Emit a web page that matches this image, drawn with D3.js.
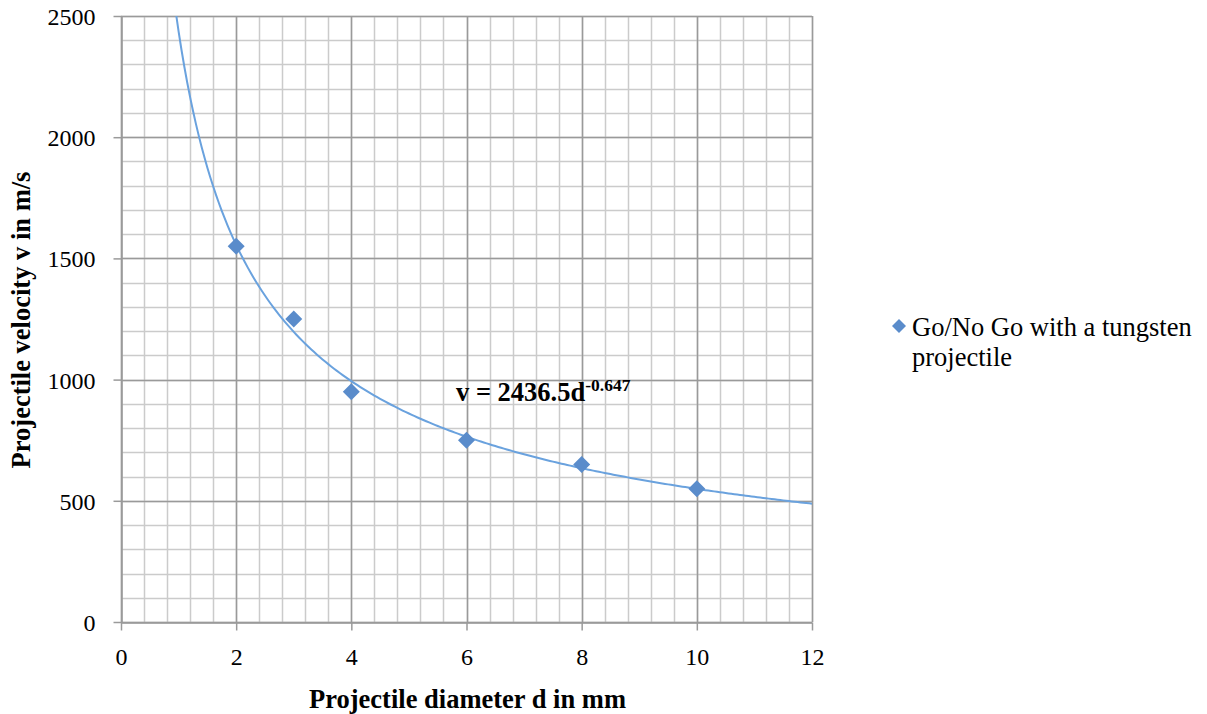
<!DOCTYPE html>
<html>
<head>
<meta charset="utf-8">
<script src="https://cdnjs.cloudflare.com/ajax/libs/d3/7.8.5/d3.min.js"></script>
<style>
  body { margin: 0; background: #fff; }
  svg text { font-family: "Liberation Serif", "Times New Roman", serif; fill: #000; }
</style>
</head>
<body>
<script>
"use strict";
(function(){
    // data
    const diameters = [2, 3, 4, 6, 8, 10]
    const velocities = [1550, 1250, 950, 750, 650, 550]
    const xTicks = [0, 2, 4, 6, 8, 10, 12]
    const yTicks = [0, 500, 1000, 1500, 2000, 2500]
    // power trendline shown on the chart: v = a * d^b
    const fitA = 2436.5
    const fitB = -0.647
    const seriesName = ["Go/No Go with a tungsten", "projectile"]

    const measurements = {
        width: 1207,
        height: 714,
        left: 121,
        right: 812,
        top: 16,
        bottom: 622
    }
    const markerColor = "#5a8ccb"
    const lineColor = "#6aa2de"
    const serif = '"Liberation Serif", "Times New Roman", serif'

    let svgContainer = d3.select('body').append("svg")
        .attr('width', measurements.width)
        .attr('height', measurements.height)

    let scaleX = d3.scaleLinear()
        .domain([0, 12])
        .range([measurements.left, measurements.right])
    let scaleY = d3.scaleLinear()
        .domain([0, 2500])
        .range([measurements.bottom, measurements.top])

    // grid lines: minor first, major on top
    function drawGrid(xs, ys, colour) {
        let g = svgContainer.append('g')
        g.selectAll('.v')
            .data(xs)
            .enter().append('line')
            .attr('x1', d => Math.round(scaleX(d)) + 0.5)
            .attr('x2', d => Math.round(scaleX(d)) + 0.5)
            .attr('y1', measurements.top)
            .attr('y2', measurements.bottom)
            .attr('stroke', colour)
            .attr('stroke-width', 1.5)
        g.selectAll('.h')
            .data(ys)
            .enter().append('line')
            .attr('x1', measurements.left)
            .attr('x2', measurements.right)
            .attr('y1', d => Math.round(scaleY(d)) + 0.5)
            .attr('y2', d => Math.round(scaleY(d)) + 0.5)
            .attr('stroke', colour)
            .attr('stroke-width', 1.5)
    }
    drawGrid(d3.range(0, 12.0001, 0.4), d3.range(0, 2501, 100), '#cbcbcb')
    drawGrid(xTicks, yTicks, '#9a9a9a')

    // axes
    let xAxis = d3.axisBottom(scaleX)
        .tickValues(xTicks)
        .tickFormat(d3.format('d'))
        .tickSizeInner(8)
        .tickSizeOuter(0)
        .tickPadding(17)
    let yAxis = d3.axisLeft(scaleY)
        .tickValues(yTicks)
        .tickFormat(d3.format('d'))
        .tickSizeInner(8)
        .tickSizeOuter(0)
        .tickPadding(18)

    let gx = svgContainer.append('g')
        .attr('transform', `translate(0, ${measurements.bottom + 0.5})`)
        .call(xAxis)
    let gy = svgContainer.append('g')
        .attr('transform', `translate(${measurements.left + 0.5}, 0)`)
        .call(yAxis)
    ;[gx, gy].forEach(g => {
        g.select('.domain').attr('stroke', '#9a9a9a').attr('stroke-width', 1.5)
        g.selectAll('.tick line').attr('stroke', '#9a9a9a').attr('stroke-width', 1.5)
        g.selectAll('.tick text')
            .style('font-family', serif)
            .style('font-size', '24px')
            .attr('fill', '#000')
    })
    gy.selectAll('.tick text').attr('dy', '0.35em')

    // trendline
    let curveD = d3.range(0.9, 12.0001, 0.05)
    let line = d3.line()
        .x(d => scaleX(d))
        .y(d => scaleY(fitA * Math.pow(d, fitB)))
    svgContainer.append('clipPath').attr('id', 'plotclip')
        .append('rect')
        .attr('x', measurements.left)
        .attr('y', measurements.top)
        .attr('width', measurements.right - measurements.left)
        .attr('height', measurements.bottom - measurements.top)
    svgContainer.append('path')
        .datum(curveD)
        .attr('clip-path', 'url(#plotclip)')
        .attr('d', line)
        .attr('fill', 'none')
        .attr('stroke', lineColor)
        .attr('stroke-width', 2)

    // markers
    const diamond = r => `M0,${-r}L${r},0L0,${r}L${-r},0Z`
    svgContainer.selectAll('.marker')
        .data(diameters)
        .enter().append('path')
        .attr('transform', (d, i) => `translate(${scaleX(d)}, ${scaleY(velocities[i])})`)
        .attr('d', diamond(8.5))
        .attr('fill', markerColor)

    // equation label
    let eq = svgContainer.append('text')
        .attr('x', 456)
        .attr('y', 401)
        .style('font-size', '26.5px')
        .style('font-weight', 'bold')
    eq.append('tspan').text('v = ' + fitA + 'd')
    eq.append('tspan')
        .attr('dy', -10)
        .style('font-size', '17.5px')
        .text(String(fitB))

    // axis titles
    svgContainer.append('text')
        .attr('x', 467.5)
        .attr('y', 708)
        .attr('text-anchor', 'middle')
        .style('font-size', '26.5px')
        .style('font-weight', 'bold')
        .text('Projectile diameter d in mm')
    svgContainer.append('text')
        .attr('transform', 'translate(30, 320) rotate(-90)')
        .attr('text-anchor', 'middle')
        .style('font-size', '26.5px')
        .style('font-weight', 'bold')
        .text('Projectile velocity v in m/s')

    // legend
    svgContainer.append('path')
        .attr('transform', 'translate(899, 326)')
        .attr('d', diamond(7))
        .attr('fill', markerColor)
    svgContainer.selectAll('.legendText')
        .data(seriesName)
        .enter().append('text')
        .attr('x', 912)
        .attr('y', (d, i) => 336 + i * 30)
        .style('font-size', '26.5px')
        .text(d => d)
})()
</script>
</body>
</html>
